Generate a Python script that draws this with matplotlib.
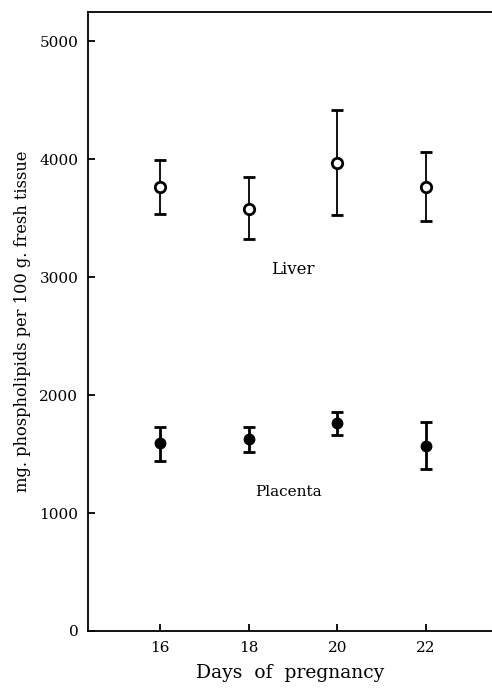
import matplotlib
matplotlib.use("Agg")
import matplotlib.pyplot as plt

days = [16, 18, 20, 22]
liver_mean = [3765, 3576, 3969, 3765]
liver_low = [3534, 3322, 3528, 3475]
liver_high = [3995, 3850, 4415, 4062]
placenta_mean = [1590, 1624, 1765, 1568]
placenta_low = [1441, 1520, 1658, 1370]
placenta_high = [1731, 1726, 1858, 1769]
y_ticks = [0, 1000, 2000, 3000, 4000, 5000]
x_ticks = [16, 18, 20, 22]

plt.rcParams['font.family'] = ['DejaVu Serif']

fig = plt.figure(figsize=(4.92, 6.89), dpi=100)
ax = fig.add_axes([88/492, 1-631/689, 1-88/492, (631-12)/689])

def err(mean, low, high):
    return [[m - l for m, l in zip(mean, low)], [h - m for m, h in zip(mean, high)]]

ax.errorbar(days, liver_mean, yerr=err(liver_mean, liver_low, liver_high), fmt='o',
            color='black', mfc='white', mec='black', mew=2.0, ms=7.5, elinewidth=1.3,
            capsize=4.5, capthick=1.8)
ax.errorbar(days, placenta_mean, yerr=err(placenta_mean, placenta_low, placenta_high), fmt='o',
            color='black', mfc='black', mec='black', ms=7.5, elinewidth=2.0,
            capsize=4.5, capthick=2.0)

ax.text(19.0, 3060, "Liver", fontsize=12, ha='center', va='center')
ax.text(18.9, 1178, "Placenta", fontsize=11, ha='center', va='center')

ax.set_xlim(14.37, 23.49)
ax.set_ylim(0, 5246)
ax.set_xticks(x_ticks)
ax.set_yticks(y_ticks)
ax.tick_params(direction='in', length=5, width=1.3, labelsize=11, pad=7)
ax.spines['right'].set_visible(False)
for s in ['left', 'bottom', 'top']:
    ax.spines[s].set_linewidth(1.3)

ax.set_xlabel("Days  of  pregnancy", fontsize=13.5, labelpad=7)
ax.set_ylabel("mg. phospholipids per 100 g. fresh tissue", fontsize=11.7, labelpad=6)

fig.savefig("out.png", dpi=100)
